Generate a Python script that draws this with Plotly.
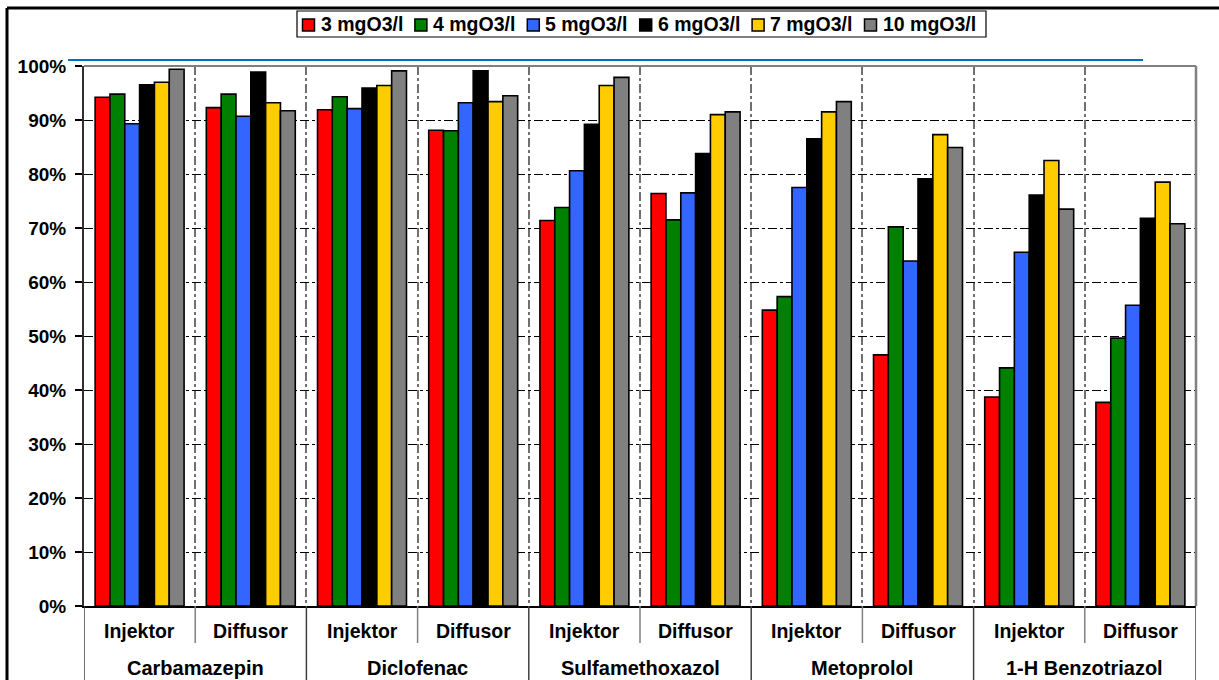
import plotly.graph_objects as go

# ---------------- data ----------------
substances = ["Carbamazepin", "Diclofenac", "Sulfamethoxazol", "Metoprolol", "1-H Benzotriazol"]
methods = ["Injektor", "Diffusor"]
categories = [f"{s} | {m}" for s in substances for m in methods]

series_names = ["3 mgO3/l", "4 mgO3/l", "5 mgO3/l", "6 mgO3/l", "7 mgO3/l", "10 mgO3/l"]
dose_3 = [94.2, 92.3, 91.9, 88.1, 71.4, 76.4, 54.8, 46.5, 38.7, 37.7]
dose_4 = [94.8, 94.8, 94.3, 88.0, 73.8, 71.5, 57.3, 70.2, 44.1, 49.6]
dose_5 = [89.3, 90.7, 92.1, 93.2, 80.6, 76.5, 77.5, 63.9, 65.5, 55.7]
dose_6 = [96.5, 98.9, 95.9, 99.1, 89.2, 83.8, 86.5, 79.1, 76.1, 71.8]
dose_7 = [97.0, 93.2, 96.4, 93.4, 96.4, 91.0, 91.5, 87.3, 82.5, 78.5]
dose_10 = [99.4, 91.7, 99.1, 94.5, 97.9, 91.5, 93.4, 84.9, 73.5, 70.8]
series_values = [dose_3, dose_4, dose_5, dose_6, dose_7, dose_10]
colors = ["#FF0000", "#008000", "#3366FF", "#000000", "#FFCC00", "#808080"]
y_ticks = list(range(0, 101, 10))
y_ticktext = [f"{v}%" for v in y_ticks]

FONT = "Liberation Sans, Arial, sans-serif"

fig = go.Figure()
for name, vals, col in zip(series_names, series_values, colors):
    fig.add_trace(go.Bar(
        x=categories, y=vals, name=name,
        marker=dict(color=col, line=dict(color="#000000", width=1.6)),
    ))

# plot area in pixels: x 84..1196, y 66..606
L, R, T, B = 84, 23, 66, 74
W, H = 1219, 680
pw, ph = W - L - R, H - T - B


def px_x(p):
    return (p - L) / pw


def px_y(p):
    return (H - B - p) / ph


shapes = []
annotations = []

# outer black frame (top and left)
shapes.append(dict(type="line", xref="paper", yref="paper",
                   x0=px_x(7), x1=px_x(1240), y0=px_y(8), y1=px_y(8),
                   line=dict(color="#000000", width=3)))
shapes.append(dict(type="line", xref="paper", yref="paper",
                   x0=px_x(7), x1=px_x(7), y0=px_y(8), y1=px_y(700),
                   line=dict(color="#000000", width=3)))
# blue line
shapes.append(dict(type="line", xref="paper", yref="paper",
                   x0=px_x(68), x1=px_x(1143), y0=px_y(60), y1=px_y(60),
                   line=dict(color="#0070C0", width=2)))
# gray top and right border of the plot area
shapes.append(dict(type="line", xref="paper", yref="paper",
                   x0=0, x1=1, y0=1, y1=1, line=dict(color="#808080", width=2)))
shapes.append(dict(type="line", xref="paper", yref="paper",
                   x0=1, x1=1, y0=0, y1=1, line=dict(color="#808080", width=2.5)))

# legend (box, colour keys, labels)
shapes.append(dict(type="rect", xref="paper", yref="paper",
                   x0=px_x(297), x1=px_x(986), y0=px_y(37), y1=px_y(11),
                   line=dict(color="#000000", width=1.2), fillcolor="#FFFFFF"))
leg_x0, leg_step = 302.5, 112.4
for k, (name, col) in enumerate(zip(series_names, colors)):
    sx = leg_x0 + k * leg_step
    shapes.append(dict(type="rect", xref="paper", yref="paper",
                       x0=px_x(sx), x1=px_x(sx + 12), y0=px_y(31), y1=px_y(19),
                       line=dict(color="#000000", width=1.5), fillcolor=col))
    annotations.append(dict(x=px_x(sx + 16), y=px_y(24.5), xref="paper", yref="paper",
                            text=f"<b>{name}</b>", showarrow=False,
                            xanchor="left", yanchor="middle",
                            font=dict(family=FONT, size=19.5, color="#000000")))

# dividers in the label area
n_cat = len(categories)
for i in range(n_cat + 1):
    xb = i - 0.5
    if i % len(methods) == 0:
        shapes.append(dict(type="line", xref="x", yref="paper",
                           x0=xb, x1=xb, y0=0, y1=px_y(700),
                           line=dict(color="#404040", width=1.5)))
    else:
        shapes.append(dict(type="line", xref="x", yref="paper",
                           x0=xb, x1=xb, y0=0, y1=px_y(643),
                           line=dict(color="#808080", width=1.5)))

for i, c in enumerate(categories):
    annotations.append(dict(x=i, y=px_y(631), xref="x", yref="paper",
                            text=f"<b>{methods[i % len(methods)]}</b>", showarrow=False,
                            xanchor="center", yanchor="middle",
                            font=dict(family=FONT, size=19.5, color="#000000")))
for j, s in enumerate(substances):
    annotations.append(dict(x=j * len(methods) + (len(methods) - 1) / 2, y=px_y(668),
                            xref="x", yref="paper",
                            text=f"<b>{s}</b>", showarrow=False,
                            xanchor="center", yanchor="middle",
                            font=dict(family=FONT, size=20, color="#000000")))

fig.update_layout(
    width=W, height=H,
    margin=dict(l=L, r=R, t=T, b=B, pad=0),
    paper_bgcolor="#FFFFFF", plot_bgcolor="#FFFFFF",
    barmode="group", bargap=0.2, bargroupgap=0,
    font=dict(family=FONT, color="#000000"),
    showlegend=False,
    xaxis=dict(type="category", categoryorder="array", categoryarray=categories,
               range=[-0.5, n_cat - 0.5], tickson="boundaries",
               showgrid=True, gridcolor="#707070", griddash="dashdot", gridwidth=1.5,
               showticklabels=False, ticks="",
               showline=True, linecolor="#000000", linewidth=2, zeroline=False),
    yaxis=dict(range=[0, 100], tickvals=y_ticks, ticktext=[f"<b>{t}</b>" for t in y_ticktext],
               showgrid=True, gridcolor="#000000", griddash="dashdot", gridwidth=1,
               ticks="outside", ticklen=7, tickcolor="#000000", tickwidth=1.5,
               ticklabelstandoff=5,
               showline=True, linecolor="#303030", linewidth=2, zeroline=False,
               tickfont=dict(family=FONT, size=19, color="#000000")),
    shapes=shapes,
    annotations=annotations,
)

fig.write_html("out.html", config={"displayModeBar": False},
               post_script="document.body.style.margin='0';")
